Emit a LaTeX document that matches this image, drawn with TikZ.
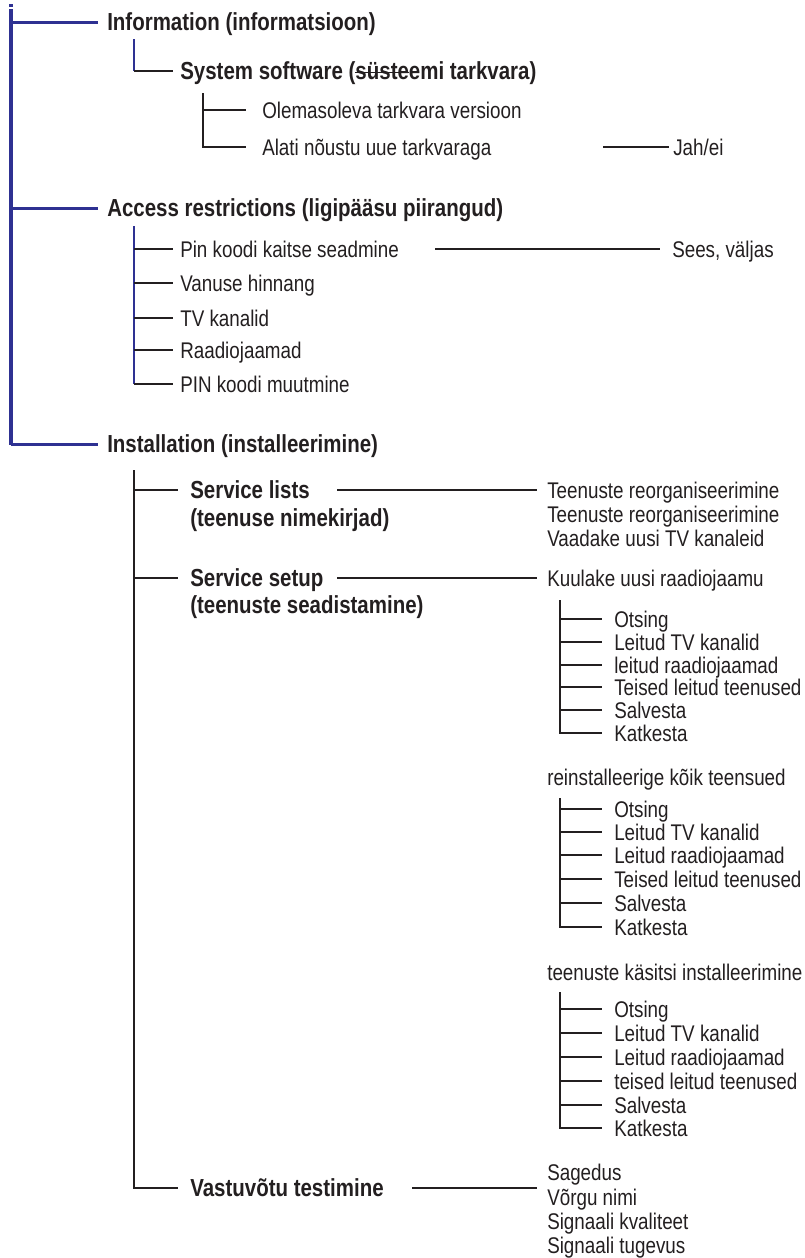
\documentclass[tikz,border=0pt]{standalone}
\usepackage{fontspec}
\setmainfont{Liberation Sans}[FakeStretch=0.83]
\usepackage{tikz}
\usepackage{xcolor}

\definecolor{menublue}{HTML}{2E3192}
\definecolor{ink}{HTML}{231F20}

\newcommand\strk[1]{\sbox0{#1}\rlap{\usebox0}\rule[0.27em]{\wd0}{0.6pt}}

\tikzset{
  menuhead/.style={anchor=west, inner xsep=6.75pt, inner ysep=0pt, text height=13.2pt, text depth=0pt,
    text=ink, font=\fontsize{18.5pt}{20pt}\selectfont\bfseries},
  menuitem/.style={anchor=west, inner xsep=7.5pt, inner ysep=0pt, text height=12.1pt, text depth=0pt,
    text=ink, font=\fontsize{17pt}{18pt}\selectfont},
  mainline/.style={menublue, line width=3pt},
  branchline/.style={menublue, line width=2.25pt},
  bluethin/.style={menublue, line width=1.1pt},
  inkline/.style={ink, line width=1.1pt},
}

\begin{document}
\begin{tikzpicture}[x=0.75pt, y=-0.75pt]
        \useasboundingbox (0,0) rectangle (805,1258);

        % top level
        \coordinate (root) at (11, 9);
        \node (info) at (98,  22) [menuhead] {Information (informatsioon)};
        \node (acc)  at (98, 208) [menuhead] {Access restrictions (ligipääsu piirangud)};
        \node (inst) at (98, 444) [menuhead] {Installation (installeerimine)};

        \fill[menublue] (9, 4) rectangle (13, 7);
        \draw[mainline] (root) -- ([yshift=-1.1pt]root |- inst.west);
        \draw[branchline] (root |- info.west) -- (info.west);
        \draw[branchline] (root |- acc.west) -- (acc.west);
        \draw[branchline] (root |- inst.west) -- (inst.west);

        % information
        \coordinate (infostem) at (134, 39);
        \node (sys) at (173, 71) [menuhead, inner xsep=5.25pt] {System software (\strk{süste}emi tarkvara)};
        \draw[bluethin] (infostem) -- (infostem |- sys.west);
        \draw[inkline] (infostem |- sys.west) -- (sys.west);

        \coordinate (sysstem) at (203, 93);
        \node (olem)  at (246, 110) [menuitem, inner xsep=12pt] {Olemasoleva tarkvara versioon};
        \node (alati) at (246, 147) [menuitem, inner xsep=12pt] {Alati nõustu uue tarkvaraga};
        \draw[inkline] (sysstem) |- (alati.west);
        \draw[inkline] (sysstem |- olem.west) -- (olem.west);

        \coordinate (jahfrom) at (603, 147);
        \node (jah) at (669, 147) [menuitem, inner xsep=3pt] {Jah/ei};
        \draw[inkline] (jahfrom) -- (jah.west);

        % access restrictions
        \coordinate (accstem) at (134, 226);
        \node (pin)   at (173, 249) [menuitem, inner xsep=5.25pt] {Pin koodi kaitse seadmine};
        \node (age)   at (173, 283) [menuitem, inner xsep=5.25pt] {Vanuse hinnang};
        \node (tv)    at (173, 318) [menuitem, inner xsep=5.25pt] {TV kanalid};
        \node (radio) at (173, 350) [menuitem, inner xsep=5.25pt] {Raadiojaamad};
        \node (pinch) at (173, 384) [menuitem, inner xsep=5.25pt] {PIN koodi muutmine};
        \draw[bluethin] (accstem) -- (accstem |- pinch.west);
        \draw[inkline] (accstem |- pin.west) -- (pin.west);
        \draw[inkline] (accstem |- age.west) -- (age.west);
        \draw[inkline] (accstem |- tv.west) -- (tv.west);
        \draw[inkline] (accstem |- radio.west) -- (radio.west);
        \draw[inkline] (accstem |- pinch.west) -- (pinch.west);

        \coordinate (pinfrom) at (435, 249);
        \node (sees) at (660, 249) [menuitem, inner xsep=9pt] {Sees, väljas};
        \draw[inkline] (pinfrom) -- (sees.west);

        % installation
        \coordinate (inststem) at (134, 470);
        \node (sl)   at (178,  490) [menuhead, inner xsep=9pt] {Service lists};
        \node (sl2)  at (178,  518) [menuhead, inner xsep=9pt] {(teenuse nimekirjad)};
        \node (ss)   at (178,  578) [menuhead, inner xsep=9pt] {Service setup};
        \node (ss2)  at (178,  605) [menuhead, inner xsep=9pt] {(teenuste seadistamine)};
        \node (test) at (178, 1188) [menuhead, inner xsep=9pt] {Vastuvõtu testimine};
        \draw[inkline] (inststem) |- (test.west);
        \draw[inkline] (inststem |- sl.west) -- (sl.west);
        \draw[inkline] (inststem |- ss.west) -- (ss.west);

        % service lists
        \coordinate (slfrom) at (337, 490);
        \node (reorg1) at (537, 490) [menuitem] {Teenuste reorganiseerimine};
        \node (reorg2) at (537, 514) [menuitem] {Teenuste reorganiseerimine};
        \node (watch)  at (537, 538) [menuitem] {Vaadake uusi TV kanaleid};
        \draw[inkline] (slfrom) -- (reorg1.west);

        % service setup
        \coordinate (ssfrom) at (337, 578);
        \node (listen) at (537, 578) [menuitem] {Kuulake uusi raadiojaamu};
        \draw[inkline] (ssfrom) -- (listen.west);

        \coordinate (lstem) at (560, 600);
        \node (la) at (602, 619) [menuitem, inner xsep=9pt] {Otsing};
        \node (lb) at (602, 642) [menuitem, inner xsep=9pt] {Leitud TV kanalid};
        \node (lc) at (602, 665) [menuitem, inner xsep=9pt] {leitud raadiojaamad};
        \node (ld) at (602, 687) [menuitem, inner xsep=9pt] {Teised leitud teenused};
        \node (le) at (602, 710) [menuitem, inner xsep=9pt] {Salvesta};
        \node (lf) at (602, 733) [menuitem, inner xsep=9pt] {Katkesta};
        \draw[inkline] (lstem) |- (lf.west);
        \draw[inkline] (lstem |- la.west) -- (la.west);
        \draw[inkline] (lstem |- lb.west) -- (lb.west);
        \draw[inkline] (lstem |- lc.west) -- (lc.west);
        \draw[inkline] (lstem |- ld.west) -- (ld.west);
        \draw[inkline] (lstem |- le.west) -- (le.west);

        \node (rein) at (537, 777) [menuitem] {reinstalleerige kõik teensued};
        \coordinate (rstem) at (560, 798);
        \node (ra) at (602, 809) [menuitem, inner xsep=9pt] {Otsing};
        \node (rb) at (602, 832) [menuitem, inner xsep=9pt] {Leitud TV kanalid};
        \node (rc) at (602, 855) [menuitem, inner xsep=9pt] {Leitud raadiojaamad};
        \node (rd) at (602, 879) [menuitem, inner xsep=9pt] {Teised leitud teenused};
        \node (re) at (602, 903) [menuitem, inner xsep=9pt] {Salvesta};
        \node (rf) at (602, 927) [menuitem, inner xsep=9pt] {Katkesta};
        \draw[inkline] (rstem) |- (rf.west);
        \draw[inkline] (rstem |- ra.west) -- (ra.west);
        \draw[inkline] (rstem |- rb.west) -- (rb.west);
        \draw[inkline] (rstem |- rc.west) -- (rc.west);
        \draw[inkline] (rstem |- rd.west) -- (rd.west);
        \draw[inkline] (rstem |- re.west) -- (re.west);

        \node (manual) at (537, 972) [menuitem] {teenuste käsitsi installeerimine};
        \coordinate (mstem) at (560, 992);
        \node (ma) at (602, 1009) [menuitem, inner xsep=9pt] {Otsing};
        \node (mb) at (602, 1033) [menuitem, inner xsep=9pt] {Leitud TV kanalid};
        \node (mc) at (602, 1057) [menuitem, inner xsep=9pt] {Leitud raadiojaamad};
        \node (md) at (602, 1081) [menuitem, inner xsep=9pt] {teised leitud teenused};
        \node (me) at (602, 1105) [menuitem, inner xsep=9pt] {Salvesta};
        \node (mf) at (602, 1128) [menuitem, inner xsep=9pt] {Katkesta};
        \draw[inkline] (mstem) |- (mf.west);
        \draw[inkline] (mstem |- ma.west) -- (ma.west);
        \draw[inkline] (mstem |- mb.west) -- (mb.west);
        \draw[inkline] (mstem |- mc.west) -- (mc.west);
        \draw[inkline] (mstem |- md.west) -- (md.west);
        \draw[inkline] (mstem |- me.west) -- (me.west);

        % reception test
        \coordinate (testfrom) at (412, 1188);
        \coordinate (testto) at (537, 1188);
        \node (freq)    at (537, 1172) [menuitem] {Sagedus};
        \node (net)     at (537, 1197) [menuitem] {Võrgu nimi};
        \node (quality) at (537, 1221) [menuitem] {Signaali kvaliteet};
        \node (level)   at (537, 1245) [menuitem] {Signaali tugevus};
        \draw[inkline] (testfrom) -- (testto);
    \end{tikzpicture}
\end{document}
